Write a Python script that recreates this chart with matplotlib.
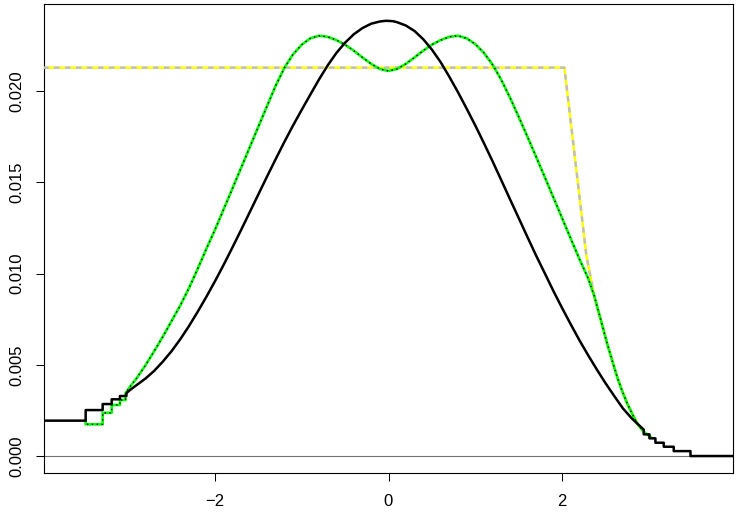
import numpy as np
import matplotlib
matplotlib.use("Agg")
import matplotlib.pyplot as plt

plt.rcParams['font.family'] = ['Liberation Sans', 'DejaVu Sans']

# ---------------- data ----------------
# black solid curve: stepped left tail, smooth middle, stepped right tail
black_left_step_x = [-4.5, -3.490, -3.294, -3.190, -3.095, -3.020]
black_left_step_y = [0.00194, 0.00252, 0.00285, 0.00311, 0.00329, 0.00345]
black_mid_x = [-2.979, -2.9, -2.8, -2.7, -2.6, -2.5, -2.4, -2.3, -2.2, -2.1,
               -2.0, -1.9, -1.8, -1.7, -1.6, -1.5, -1.4, -1.3, -1.2, -1.1,
               -1.0, -0.9, -0.8, -0.7, -0.6, -0.5, -0.4, -0.3, -0.2, -0.1,
               -0.03, 0.05, 0.1, 0.2, 0.3, 0.4, 0.5, 0.6, 0.7, 0.8,
               0.9, 1.0, 1.1, 1.2, 1.3, 1.4, 1.5, 1.6, 1.7, 1.8,
               1.9, 2.0, 2.1, 2.2, 2.3, 2.4, 2.5, 2.6, 2.7, 2.8,
               2.9, 2.941]
black_mid_y = [0.00362, 0.00390, 0.00425, 0.00467, 0.00518, 0.00575, 0.00640, 0.00712, 0.00790, 0.00872,
               0.00958, 0.01048, 0.01142, 0.01238, 0.01336, 0.01434, 0.01532, 0.01628, 0.01722, 0.01812,
               0.01898, 0.01982, 0.02065, 0.02142, 0.02210, 0.02266, 0.02312, 0.02346, 0.02370, 0.02382,
               0.02386, 0.02384, 0.02378, 0.02360, 0.02330, 0.02285, 0.02228, 0.02160, 0.02080, 0.01995,
               0.01905, 0.01812, 0.01715, 0.01615, 0.01512, 0.01408, 0.01305, 0.01202, 0.01100, 0.01003,
               0.00905, 0.00812, 0.00722, 0.00635, 0.00553, 0.00475, 0.00400, 0.00330, 0.00262, 0.00208,
               0.00163, 0.00145]
black_right_step_x = [2.941, 3.007, 3.076, 3.172, 3.287, 3.480, 4.5]
black_right_step_y = [0.00119, 0.00097, 0.00073, 0.00051, 0.00027, 0.0, 0.0]

# green curve (with black dotted overlay)
green_left_step_x = [-3.490, -3.490, -3.294, -3.190, -3.095, -3.030]
green_left_step_y = [0.00194, 0.00174, 0.00237, 0.00280, 0.00307, 0.00345]
green_mid_x = [-2.979, -2.9, -2.8, -2.7, -2.6, -2.5, -2.4, -2.3, -2.2, -2.1,
               -2.0, -1.9, -1.8, -1.7, -1.6, -1.5, -1.4, -1.3, -1.2, -1.1,
               -1.0, -0.9, -0.8, -0.7, -0.6, -0.5, -0.4, -0.3, -0.2, -0.1,
               0.0, 0.1, 0.2, 0.3, 0.4, 0.5, 0.6, 0.7, 0.8, 0.9,
               1.0, 1.1, 1.2, 1.3, 1.4, 1.5, 1.6, 1.7, 1.8, 1.9,
               2.0, 2.1, 2.2, 2.3]
green_mid_y = [0.00380, 0.00428, 0.00498, 0.00575, 0.00655, 0.00740, 0.00825, 0.00920, 0.01025, 0.01135,
               0.01240, 0.01352, 0.01465, 0.01578, 0.01692, 0.01805, 0.01918, 0.02030, 0.02128, 0.02202,
               0.02255, 0.02290, 0.02304, 0.02298, 0.02280, 0.02255, 0.02222, 0.02185, 0.02150, 0.02122,
               0.02111, 0.02122, 0.02150, 0.02185, 0.02222, 0.02255, 0.02280, 0.02298, 0.02304, 0.02290,
               0.02258, 0.02210, 0.02145, 0.02062, 0.01965, 0.01860, 0.01752, 0.01642, 0.01530, 0.01418,
               0.01305, 0.01192, 0.01080, 0.00975]

# shared right tail of green and yellow/grey curves
tail_x = [2.370, 2.450, 2.519, 2.580, 2.634, 2.690, 2.750, 2.810, 2.865, 2.941, 3.018]
tail_y = [0.00880, 0.00740, 0.00618, 0.00520, 0.00435, 0.00360, 0.00289, 0.00230, 0.00179, 0.00133, 0.00106]

# yellow curve (with grey dashed overlay)
yellow_x = [-4.5, 2.027, 2.280]
yellow_y = [0.02129, 0.02129, 0.01100]

x_ticks = [-2, 0, 2]
x_tick_labels = ["\u22122", "0", "2"]
y_ticks = [0.000, 0.005, 0.010, 0.015, 0.020]
y_tick_labels = ["0.000", "0.005", "0.010", "0.015", "0.020"]


def step_vertices(x, y):
    x = np.asarray(x, float)
    y = np.asarray(y, float)
    return np.repeat(x, 2)[1:], np.repeat(y, 2)[:-1]


blx, bly = step_vertices(black_left_step_x, black_left_step_y)
brx, bry = step_vertices(black_right_step_x, black_right_step_y)
black_x = np.concatenate([blx, black_mid_x, brx])
black_y = np.concatenate([bly, black_mid_y, bry])

glx, gly = step_vertices(green_left_step_x, green_left_step_y)
green_x = np.concatenate([glx, green_mid_x, tail_x])
green_y = np.concatenate([gly, green_mid_y, tail_y])

yel_x = np.concatenate([yellow_x, tail_x])
yel_y = np.concatenate([yellow_y, tail_y])

# ---------------- figure ----------------
fig = plt.figure(figsize=(7.36, 5.18), dpi=100)
ax = fig.add_axes([44 / 736, (518 - 473) / 518, (733 - 44) / 736, (473 - 4) / 518])

ax.axhline(0, color="0.45", lw=0.8, zorder=1)

ax.plot(yel_x, yel_y, color="#FFFF00", lw=1.8, solid_capstyle="butt", zorder=2)
ln, = ax.plot(yel_x, yel_y, color="#BEBEBE", lw=1.8, zorder=3)
ln.set_dashes((2.2, 2.2))

ax.plot(green_x, green_y, color="#00FF00", lw=1.9, zorder=4)
dl, = ax.plot(green_x, green_y, color="black", lw=1.0, zorder=5)
dl.set_dashes((1, 2.5))

ax.plot(black_x, black_y, color="black", lw=1.8, zorder=6)

ax.set_xlim(-3.97, 3.97)
ax.set_ylim(-0.00093, 0.02478)

ax.set_xticks(x_ticks)
ax.set_xticklabels(x_tick_labels)
ax.set_yticks(y_ticks)
ax.set_yticklabels(y_tick_labels, rotation=90, va="center")

ax.tick_params(axis="both", direction="out", length=5.8, width=0.75,
               labelsize=12, color="black")
ax.tick_params(axis="x", pad=9.5)
ax.tick_params(axis="y", pad=8)
for s in ax.spines.values():
    s.set_linewidth(0.8)
    s.set_color("black")

fig.savefig("out.png", dpi=100)
